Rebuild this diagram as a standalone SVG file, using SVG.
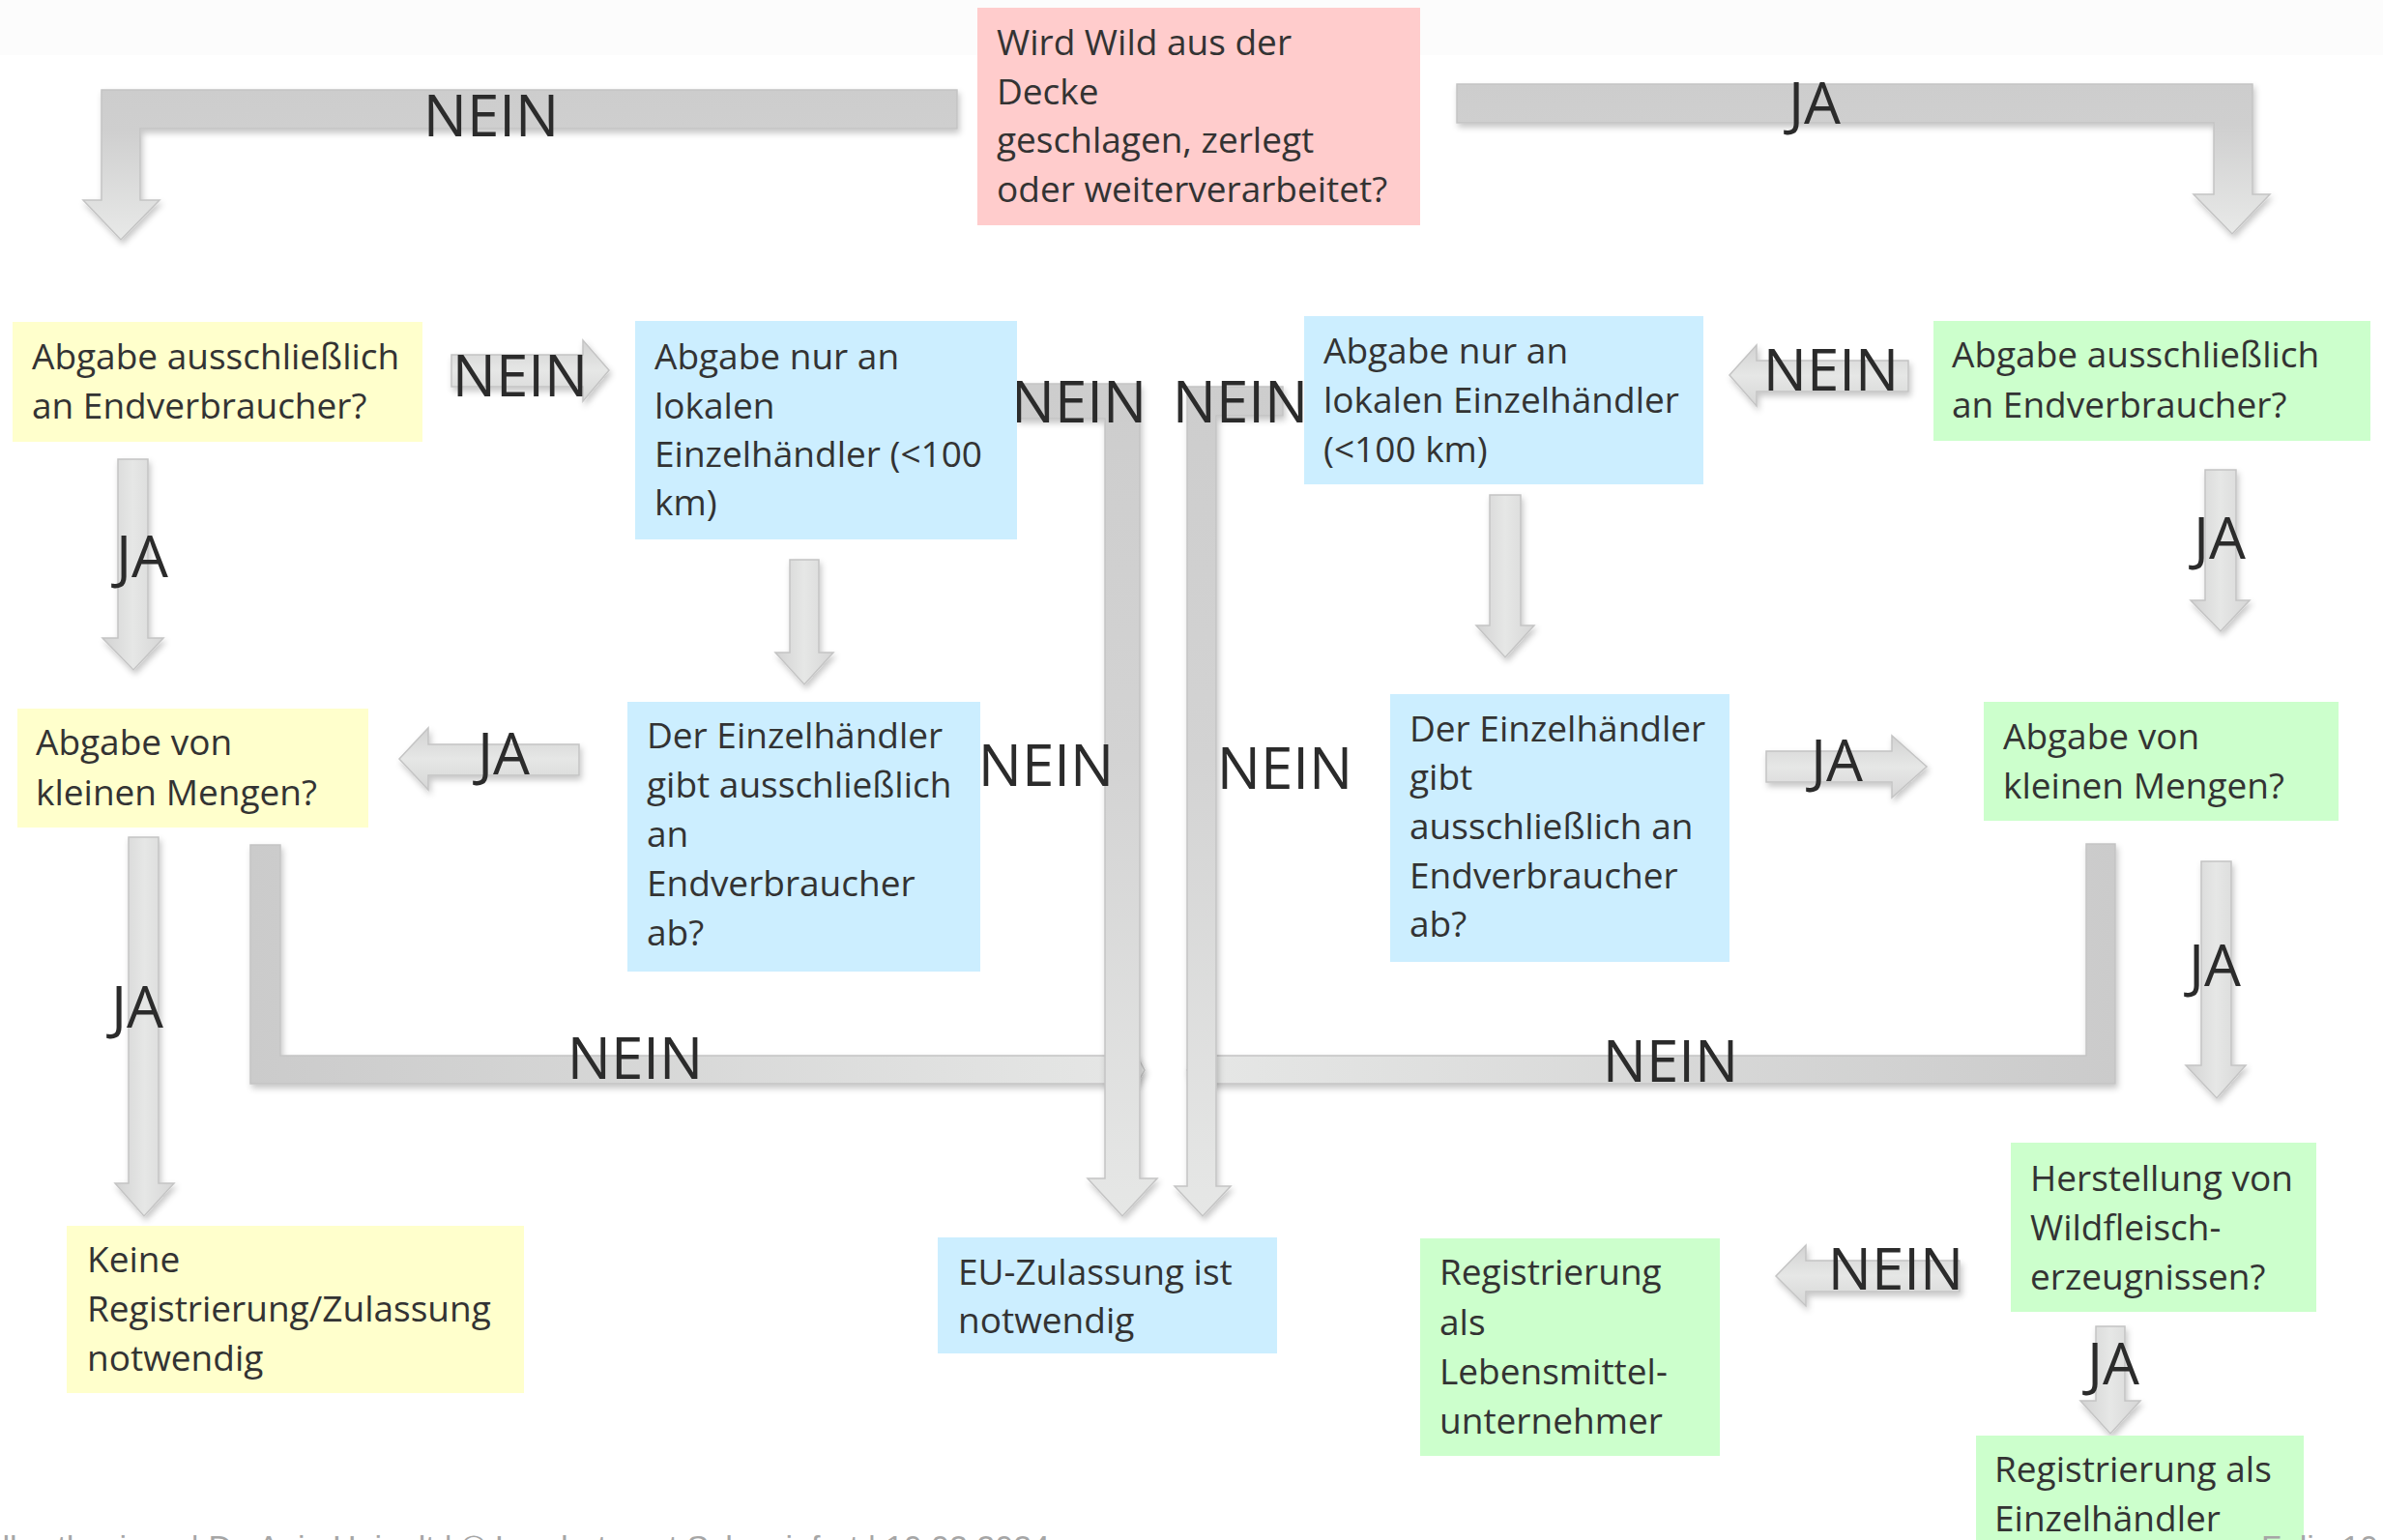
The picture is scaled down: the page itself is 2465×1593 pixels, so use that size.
<svg xmlns="http://www.w3.org/2000/svg" width="2465" height="1593" viewBox="0 0 2465 1593">
<style>
.t{font-family:"Open Sans","Noto Sans",sans-serif;font-size:37px;fill:#333}
.lbl{font-family:"Open Sans","Noto Sans",sans-serif;font-size:60px;fill:#2b2b2b;text-anchor:middle}
.foot{font-family:"Liberation Sans",Arial,sans-serif;font-size:34px;fill:#a6a6a6}
.red{fill:#ffcccc}.yel{fill:#ffffcc}.blu{fill:#cceeff}.grn{fill:#ccffcc}
.ar{stroke:#c4c4c4;stroke-width:1.5;filter:url(#sh)}
.v{fill:url(#gv)}.h{fill:url(#gh)}
</style>
<defs>
<filter id="sh" x="-20%" y="-20%" width="140%" height="140%">
<feDropShadow dx="2" dy="4" stdDeviation="3" flood-color="#000" flood-opacity="0.22"/>
</filter>
<linearGradient id="gv" x1="0" y1="0" x2="1" y2="0">
<stop offset="0" stop-color="#d2d2d2"/><stop offset="0.5" stop-color="#e6e7e6"/><stop offset="1" stop-color="#d6d6d6"/>
</linearGradient>
<linearGradient id="gh" x1="0" y1="0" x2="0" y2="1">
<stop offset="0" stop-color="#d2d2d2"/><stop offset="0.5" stop-color="#e6e7e6"/><stop offset="1" stop-color="#d6d6d6"/>
</linearGradient>
<linearGradient id="gb1" gradientUnits="userSpaceOnUse" x1="0" y1="93" x2="0" y2="248">
<stop offset="0" stop-color="#cdcdcd"/><stop offset="0.27" stop-color="#cfcfcf"/><stop offset="1" stop-color="#e8e9e8"/>
</linearGradient>
<linearGradient id="gb2" gradientUnits="userSpaceOnUse" x1="0" y1="87" x2="0" y2="242">
<stop offset="0" stop-color="#cdcdcd"/><stop offset="0.27" stop-color="#cfcfcf"/><stop offset="1" stop-color="#e8e9e8"/>
</linearGradient>
<linearGradient id="gb3" gradientUnits="userSpaceOnUse" x1="0" y1="397" x2="0" y2="1258">
<stop offset="0" stop-color="#cdcdcd"/><stop offset="0.45" stop-color="#d3d3d3"/><stop offset="1" stop-color="#e6e7e6"/>
</linearGradient>
<linearGradient id="gb5" gradientUnits="userSpaceOnUse" x1="259" y1="0" x2="1184" y2="0">
<stop offset="0" stop-color="#cbcbcb"/><stop offset="1" stop-color="#e6e7e6"/>
</linearGradient>
<linearGradient id="gb6" gradientUnits="userSpaceOnUse" x1="1228" y1="0" x2="2188" y2="0">
<stop offset="0" stop-color="#e6e7e6"/><stop offset="1" stop-color="#cbcbcb"/>
</linearGradient>
</defs>
<rect width="2465" height="1593" fill="#ffffff"/>
<rect width="2465" height="57" fill="#fcfcfc"/>

<g id="connectors">
<path class="ar" fill="url(#gb5)" d="M259,874 L290,874 L290,1092 L1176,1092 L1184,1107 L1176,1121 L259,1121 Z"/>
<path class="ar" fill="url(#gb6)" d="M2188,873 L2158,873 L2158,1092 L1236,1092 L1228,1107 L1236,1121 L2188,1121 Z"/>
<path class="ar" fill="url(#gb1)" d="M990,93 L105,93 L105,207 L86,207 L125,248 L165,207 L145,207 L145,133 L990,133 Z"/>
<path class="ar" fill="url(#gb2)" d="M1507,87 L2330,87 L2330,201 L2348,201 L2309,242 L2269,201 L2290,201 L2290,127 L1507,127 Z"/>
<path class="ar" fill="url(#gb3)" d="M1052,397 L1179,397 L1179,1219 L1197,1219 L1161,1258 L1125,1219 L1143,1219 L1143,433 L1052,433 Z"/>
<path class="ar" fill="url(#gb3)" d="M1327,400 L1228,400 L1228,1227 L1215,1227 L1244,1258 L1273,1227 L1258,1227 L1258,430 L1327,430 Z"/>
<path class="ar v" d="M122,475 L153,475 L153,660 L169,660 L138,693 L106,660 L122,660 Z"/>
<path class="ar v" d="M817,579 L847,579 L847,675 L862,675 L832,708 L802,675 L817,675 Z"/>
<path class="ar v" d="M133,866 L164,866 L164,1224 L180,1224 L149,1258 L119,1224 L133,1224 Z"/>
<path class="ar v" d="M1541,512 L1573,512 L1573,647 L1587,647 L1557,680 L1527,647 L1541,647 Z"/>
<path class="ar v" d="M2281,486 L2313,486 L2313,621 L2327,621 L2297,653 L2266,621 L2281,621 Z"/>
<path class="ar v" d="M2277,891 L2308,891 L2308,1102 L2323,1102 L2293,1136 L2261,1102 L2277,1102 Z"/>
<path class="ar v" d="M2168,1372 L2198,1372 L2198,1449 L2214,1449 L2183,1483 L2152,1449 L2168,1449 Z"/>
<path class="ar h" d="M467,367 L603,367 L603,352 L630,383 L603,415 L603,400 L467,400 Z"/>
<path class="ar h" d="M599,770 L443,770 L443,753 L413,785 L443,817 L443,802 L599,802 Z"/>
<path class="ar h" d="M1974,373 L1817,373 L1817,357 L1789,388 L1817,420 L1817,405 L1974,405 Z"/>
<path class="ar h" d="M1827,777 L1957,777 L1957,761 L1993,793 L1957,825 L1957,809 L1827,809 Z"/>
<path class="ar h" d="M2027,1304 L1868,1304 L1868,1288 L1837,1320 L1868,1351 L1868,1336 L2027,1336 Z"/>
<text class="lbl" x="508" y="141">NEIN</text>
<text class="lbl" x="1877" y="128">JA</text>
<text class="lbl" x="538" y="410">NEIN</text>
<text class="lbl" x="1116" y="437">NEIN</text>
<text class="lbl" x="1283" y="437">NEIN</text>
<text class="lbl" x="1894" y="404">NEIN</text>
<text class="lbl" x="147" y="597">JA</text>
<text class="lbl" x="2296" y="578">JA</text>
<text class="lbl" x="521" y="801">JA</text>
<text class="lbl" x="1900" y="808">JA</text>
<text class="lbl" x="1082" y="813">NEIN</text>
<text class="lbl" x="1329" y="816">NEIN</text>
<text class="lbl" x="142" y="1063">JA</text>
<text class="lbl" x="2291" y="1020">JA</text>
<text class="lbl" x="657" y="1116">NEIN</text>
<text class="lbl" x="1728" y="1119">NEIN</text>
<text class="lbl" x="1961" y="1334">NEIN</text>
<text class="lbl" x="2186" y="1432">JA</text>
</g>

<g id="n-start">
<rect class="red" x="1011" y="8" width="458" height="225"/>
<text class="t" x="1031" y="57">Wird Wild aus der</text>
<text class="t" x="1031" y="108">Decke</text>
<text class="t" x="1031" y="158">geschlagen, zerlegt</text>
<text class="t" x="1031" y="209">oder weiterverarbeitet?</text>
</g>
<g id="n-l-endverbraucher">
<rect class="yel" x="13" y="333" width="424" height="124"/>
<text class="t" x="33" y="382">Abgabe ausschließlich</text>
<text class="t" x="33" y="433">an Endverbraucher?</text>
</g>
<g id="n-l-lokal">
<rect class="blu" x="657" y="332" width="395" height="226"/>
<text class="t" x="677" y="382">Abgabe nur an</text>
<text class="t" x="677" y="433">lokalen</text>
<text class="t" x="677" y="483">Einzelhändler (&lt;100</text>
<text class="t" x="677" y="533">km)</text>
</g>
<g id="n-l-kleine-mengen">
<rect class="yel" x="18" y="733" width="363" height="123"/>
<text class="t" x="37" y="781">Abgabe von</text>
<text class="t" x="37" y="833">kleinen Mengen?</text>
</g>
<g id="n-l-einzelhaendler">
<rect class="blu" x="649" y="726" width="365" height="279"/>
<text class="t" x="669" y="774">Der Einzelhändler</text>
<text class="t" x="669" y="825">gibt ausschließlich</text>
<text class="t" x="669" y="876">an</text>
<text class="t" x="669" y="927">Endverbraucher</text>
<text class="t" x="669" y="978">ab?</text>
</g>
<g id="n-keine">
<rect class="yel" x="69" y="1268" width="473" height="173"/>
<text class="t" x="90" y="1316">Keine</text>
<text class="t" x="90" y="1367">Registrierung/Zulassung</text>
<text class="t" x="90" y="1418">notwendig</text>
</g>
<g id="n-eu">
<rect class="blu" x="970" y="1280" width="351" height="120"/>
<text class="t" x="991" y="1329">EU-Zulassung ist</text>
<text class="t" x="991" y="1379">notwendig</text>
</g>
<g id="n-r-lokal">
<rect class="blu" x="1349" y="327" width="413" height="174"/>
<text class="t" x="1369" y="376">Abgabe nur an</text>
<text class="t" x="1369" y="427">lokalen Einzelhändler</text>
<text class="t" x="1369" y="478">(&lt;100 km)</text>
</g>
<g id="n-r-endverbraucher">
<rect class="grn" x="2000" y="332" width="452" height="124"/>
<text class="t" x="2019" y="380">Abgabe ausschließlich</text>
<text class="t" x="2019" y="432">an Endverbraucher?</text>
</g>
<g id="n-r-einzelhaendler">
<rect class="blu" x="1438" y="718" width="351" height="277"/>
<text class="t" x="1458" y="767">Der Einzelhändler</text>
<text class="t" x="1458" y="817">gibt</text>
<text class="t" x="1458" y="868">ausschließlich an</text>
<text class="t" x="1458" y="919">Endverbraucher</text>
<text class="t" x="1458" y="969">ab?</text>
</g>
<g id="n-r-kleine-mengen">
<rect class="grn" x="2052" y="726" width="367" height="123"/>
<text class="t" x="2072" y="775">Abgabe von</text>
<text class="t" x="2072" y="826">kleinen Mengen?</text>
</g>
<g id="n-herstellung">
<rect class="grn" x="2080" y="1182" width="316" height="175"/>
<text class="t" x="2100" y="1232">Herstellung von</text>
<text class="t" x="2100" y="1283">Wildfleisch-</text>
<text class="t" x="2100" y="1334">erzeugnissen?</text>
</g>
<g id="n-lmu">
<rect class="grn" x="1469" y="1281" width="310" height="225"/>
<text class="t" x="1489" y="1329">Registrierung</text>
<text class="t" x="1489" y="1381">als</text>
<text class="t" x="1489" y="1432">Lebensmittel-</text>
<text class="t" x="1489" y="1483">unternehmer</text>
</g>
<g id="n-reg-einzelhaendler">
<rect class="grn" x="2044" y="1485" width="339" height="120"/>
<text class="t" x="2063" y="1533">Registrierung als</text>
<text class="t" x="2063" y="1584">Einzelhändler</text>
</g>

<text class="foot" x="1086" y="1612" text-anchor="end">Wildbrethygiene | Dr. Anja Heinelt | © Landratsamt Schweinfurt | 10.02.2024</text>
<text class="foot" x="2339" y="1612">Folie 10</text>
</svg>
